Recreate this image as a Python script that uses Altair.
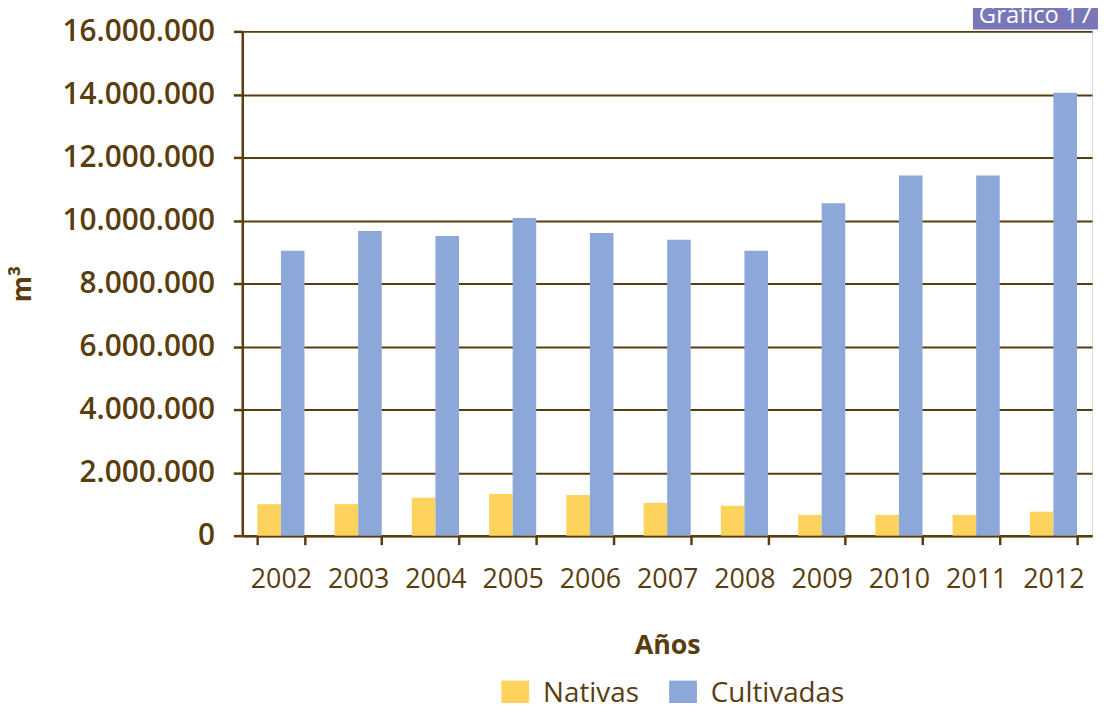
import altair as alt
import pandas as pd

years = ["2002", "2003", "2004", "2005", "2006", "2007", "2008", "2009", "2010", "2011", "2012"]
nativas = [1000000, 1000000, 1200000, 1320000, 1290000, 1040000, 950000, 660000, 660000, 660000, 760000]
cultivadas = [9040000, 9670000, 9510000, 10080000, 9600000, 9390000, 9040000, 10550000, 11430000, 11430000, 14050000]
series = ["Nativas", "Cultivadas"]
colors = ["#fdd35e", "#8ca8d8"]
y_ticks = [0, 2000000, 4000000, 6000000, 8000000, 10000000, 12000000, 14000000, 16000000]

rows = []
for i, yr in enumerate(years):
    rows.append({"year": yr, "serie": "Nativas", "value": nativas[i]})
    rows.append({"year": yr, "serie": "Cultivadas", "value": cultivadas[i]})
df = pd.DataFrame(rows)

brown = "#5a3d0c"
font = "Open Sans"

bars = alt.Chart(df).mark_bar().encode(
    x=alt.X(
        "year:N",
        title="Años",
        sort=years,
        scale=alt.Scale(paddingInner=0.39, paddingOuter=0.195),
        axis=alt.Axis(
            labelAngle=0, tickBand="extent", labelFontSize=27, labelFont=font,
            labelColor=brown, labelPadding=22, tickSize=9, tickWidth=2.5,
            tickColor=brown, domainColor=brown, domainWidth=2.5,
            titleFont=font, titleFontSize=27, titleFontWeight="bold",
            titleColor=brown, titlePadding=41,
        ),
    ),
    xOffset=alt.XOffset("serie:N", sort=series),
    y=alt.Y(
        "value:Q",
        title="m³",
        scale=alt.Scale(domain=[0, 16000000], nice=False),
        axis=alt.Axis(
            values=y_ticks,
            labelExpr="replace(format(datum.value, ','), regexp(',', 'g'), '.')",
            labelFontSize=30, labelFont=font, labelFontWeight=600,
            labelColor=brown, labelPadding=19, tickSize=9, tickWidth=2.5,
            tickColor=brown, domainColor=brown, domainWidth=2.5,
            grid=True, gridColor=brown, gridWidth=2,
            titleFont=font, titleFontSize=27, titleFontWeight="bold",
            titleColor=brown, titleX=-221, titleY=254, titleBaseline="middle",
        ),
    ),
    color=alt.Color(
        "serie:N",
        sort=series,
        scale=alt.Scale(domain=series, range=colors),
        legend=alt.Legend(
            title=None, orient="none", direction="horizontal",
            legendX=261, legendY=654, symbolType="square", symbolSize=784,
            symbolStrokeWidth=0, labelFont=font, labelFontSize=28,
            labelColor=brown, columnPadding=30, labelOffset=14,
        ),
    ),
)

badge_df = pd.DataFrame({"t": ["Gráfico 17"]})
badge = alt.Chart(badge_df).mark_rect(color="#7a77b9").encode(
    x=alt.value(736), x2=alt.value(870), y=alt.value(-30), y2=alt.value(-2)
)
badge_text = alt.Chart(badge_df).mark_text(
    color="white", font=font, fontSize=24, align="left", baseline="alphabetic"
).encode(x=alt.value(742), y=alt.value(-8), text="t:N")

chart = alt.layer(bars, badge, badge_text).properties(
    width=856, height=508,
    autosize=alt.AutoSizeParams(type="none"),
    padding={"left": 236, "top": 21, "right": 6, "bottom": 166},
).configure_view(stroke=None).configure(background="white")

chart.save("out.html", embed_options={"renderer": "svg", "actions": False})
